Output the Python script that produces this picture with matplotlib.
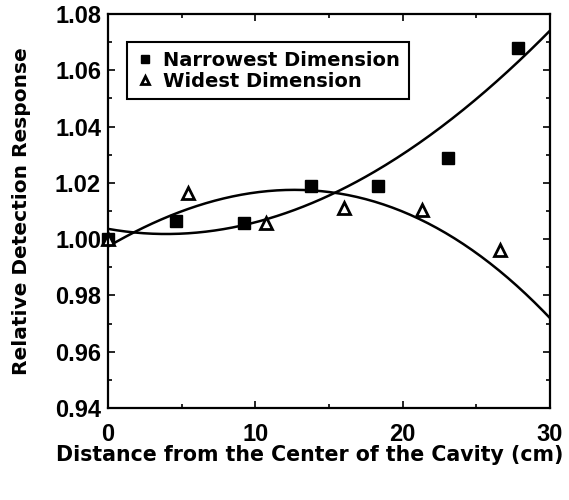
import matplotlib.pyplot as plt
import numpy as np
from matplotlib.ticker import MultipleLocator, FormatStrFormatter

plt.rcParams['font.family'] = ['Liberation Sans', 'DejaVu Sans']
plt.rcParams['font.weight'] = 'bold'

# measured points
narrow_x = [0, 4.6, 9.2, 13.8, 18.3, 23.1, 27.8]
narrow_y = [1.000, 1.0065, 1.0058, 1.019, 1.019, 1.029, 1.068]
wide_x = [0, 5.4, 10.7, 16.0, 21.3, 26.6]
wide_y = [1.000, 1.0163, 1.0058, 1.011, 1.0103, 0.996]

# points
curve_a_x = [0, 2.85, 9.2, 13.8, 15.6, 19.8, 24.4, 30]
curve_a_y = [1.0036, 1.0018, 1.0057, 1.0131, 1.0163, 1.028, 1.049, 1.0736]
curve_b_x = [0, 2.85, 6.25, 9.6, 11.7, 15.6, 21.0, 23.2, 25.5, 28.4, 30]
curve_b_y = [0.9979, 1.005, 1.0103, 1.0174, 1.0181, 1.0163, 1.0078, 1.0007,
             0.9925, 0.9808, 0.972]

fig = plt.figure(figsize=(5.69, 5.00), dpi=100)
ax = fig.add_axes([108/569, 92/500, 442/569, 394/500])

xs = np.linspace(0, 30, 200)
ax.plot(xs, np.polyval(np.polyfit(curve_a_x, curve_a_y, 3), xs), color='black', lw=1.8)
ax.plot(xs, np.polyval(np.polyfit(curve_b_x, curve_b_y, 3), xs), color='black', lw=1.8)

ax.plot(narrow_x, narrow_y, 's', color='black', ms=8.5, clip_on=False,
        label='Narrowest Dimension')
ax.plot(wide_x, wide_y, '^', mfc='white', mec='black', mew=2, ms=8, clip_on=False,
        label='Widest Dimension')

ax.set_xlim(0, 30)
ax.set_ylim(0.94, 1.08)
ax.xaxis.set_major_locator(MultipleLocator(10))
ax.xaxis.set_minor_locator(MultipleLocator(5))
ax.yaxis.set_major_locator(MultipleLocator(0.02))
ax.yaxis.set_minor_locator(MultipleLocator(0.01))
ax.yaxis.set_major_formatter(FormatStrFormatter('%.2f'))
ax.tick_params(which='both', direction='in', top=True, right=True, labelsize=17)
ax.tick_params(which='major', length=5, width=1.2)
ax.tick_params(which='minor', length=3, width=1.2)
ax.tick_params(axis='x', pad=11)
ax.tick_params(axis='y', pad=5)
for s in ax.spines.values():
    s.set_linewidth(1.6)

ax.set_xlabel('Distance from the Center of the Cavity (cm)', fontsize=14.8,
              fontweight='bold', family='DejaVu Sans')
ax.xaxis.set_label_coords((310-108)/442, -0.094)
ax.set_ylabel('Relative Detection Response', fontsize=14.5, fontweight='bold',
              family='DejaVu Sans')
ax.yaxis.set_label_coords((31-108)/442, 0.5)

leg = ax.legend(loc='upper left', bbox_to_anchor=(0.043, 0.929), borderaxespad=0,
                prop={'family': 'DejaVu Sans', 'weight': 'bold', 'size': 14},
                frameon=True, fancybox=False, edgecolor='black', framealpha=1,
                handlelength=0.9, handletextpad=0.5, borderpad=0.45,
                labelspacing=0.1, markerscale=0.7)
leg.get_frame().set_linewidth(1.5)

fig.savefig('out.png', dpi=100)
